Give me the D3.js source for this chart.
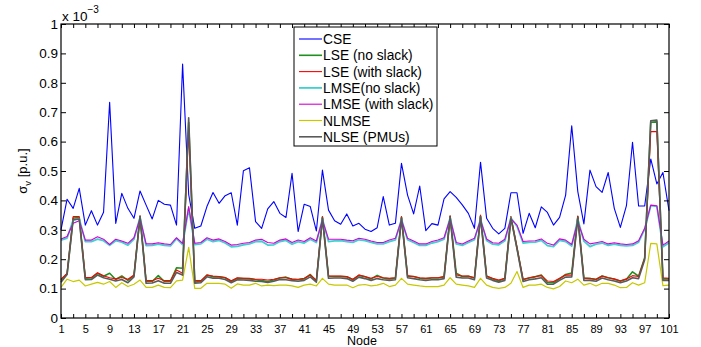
<!DOCTYPE html>
<html>
<head>
<meta charset="utf-8">
<script src="https://cdn.jsdelivr.net/npm/d3@7"></script>
<style>
  body { margin: 0; background: #fff; }
  svg { display: block; }
  text { font-family: "Liberation Sans", Arial, sans-serif; fill: #000; }
</style>
</head>
<body>
<div id="chart"></div>
<script>
// node numbers on the x axis
const nodes = d3.range(1, 102);
const xTickVals = d3.range(1, 102, 2);
const yTickVals = [0, 0.1, 0.2, 0.3, 0.4, 0.5, 0.6, 0.7, 0.8, 0.9, 1];

// sigma_v values, in units of 1e-3 p.u.
const cse = [0.30,0.404,0.373,0.441,0.316,0.365,0.316,0.36,0.734,0.322,0.424,0.373,0.339,0.432,0.384,0.337,0.40,0.387,0.384,0.316,
  0.864,0.42,0.305,0.313,0.379,0.427,0.39,0.416,0.426,0.316,0.501,0.511,0.328,0.305,0.371,0.396,0.356,0.342,0.492,0.294,
  0.387,0.379,0.296,0.503,0.367,0.331,0.319,0.354,0.313,0.322,0.302,0.294,0.307,0.413,0.316,0.322,0.526,0.418,0.354,0.449,
  0.297,0.321,0.316,0.405,0.43,0.41,0.385,0.356,0.305,0.53,0.339,0.305,0.286,0.305,0.426,0.426,0.288,0.356,0.307,0.378,
  0.359,0.316,0.342,0.418,0.654,0.43,0.32,0.503,0.447,0.427,0.495,0.373,0.308,0.382,0.598,0.381,0.381,0.541,0.456,0.495,0.365];
const lseNoSlack = [0.128,0.150,0.340,0.342,0.135,0.136,0.152,0.142,0.152,0.131,0.143,0.128,0.144,0.346,0.124,0.124,0.144,0.124,0.125,0.171,
  0.169,0.665,0.122,0.124,0.146,0.140,0.140,0.137,0.124,0.135,0.134,0.133,0.130,0.127,0.124,0.129,0.136,0.139,0.131,0.130,
  0.133,0.148,0.126,0.343,0.142,0.141,0.141,0.140,0.130,0.145,0.140,0.133,0.145,0.136,0.133,0.136,0.343,0.142,0.141,0.135,
  0.134,0.136,0.136,0.140,0.346,0.152,0.141,0.142,0.136,0.347,0.142,0.133,0.127,0.134,0.343,0.238,0.130,0.136,0.140,0.146,
  0.121,0.120,0.133,0.148,0.153,0.345,0.136,0.134,0.131,0.143,0.137,0.132,0.125,0.132,0.157,0.142,0.205,0.666,0.667,0.133,0.133];
const lseWithSlack = [0.132,0.152,0.345,0.345,0.138,0.138,0.154,0.144,0.137,0.133,0.138,0.132,0.146,0.348,0.127,0.127,0.135,0.127,0.127,0.163,
  0.152,0.645,0.127,0.127,0.146,0.143,0.141,0.138,0.127,0.137,0.135,0.135,0.132,0.132,0.129,0.132,0.137,0.137,0.133,0.132,
  0.135,0.146,0.129,0.345,0.143,0.143,0.143,0.141,0.132,0.146,0.141,0.135,0.141,0.137,0.135,0.137,0.345,0.144,0.141,0.137,
  0.135,0.137,0.137,0.141,0.348,0.146,0.143,0.143,0.137,0.350,0.143,0.135,0.129,0.135,0.345,0.240,0.132,0.137,0.141,0.144,
  0.126,0.124,0.135,0.146,0.146,0.347,0.135,0.135,0.132,0.143,0.137,0.133,0.127,0.133,0.144,0.141,0.203,0.634,0.634,0.137,0.135];
const lmseNoSlack = [0.265,0.272,0.332,0.338,0.260,0.260,0.268,0.263,0.247,0.263,0.258,0.248,0.268,0.342,0.246,0.247,0.251,0.247,0.245,0.270,
  0.250,0.372,0.250,0.252,0.268,0.260,0.264,0.255,0.242,0.244,0.249,0.252,0.260,0.261,0.248,0.249,0.260,0.264,0.251,0.260,
  0.255,0.268,0.257,0.336,0.260,0.262,0.263,0.260,0.257,0.266,0.263,0.257,0.252,0.252,0.260,0.266,0.336,0.266,0.257,0.247,
  0.247,0.255,0.260,0.268,0.340,0.252,0.247,0.257,0.266,0.336,0.264,0.251,0.249,0.263,0.340,0.312,0.255,0.257,0.258,0.264,
  0.246,0.243,0.264,0.260,0.245,0.335,0.262,0.243,0.251,0.255,0.247,0.251,0.247,0.245,0.247,0.258,0.302,0.382,0.380,0.242,0.256];
const lmseWithSlack = [0.269,0.277,0.322,0.331,0.265,0.265,0.276,0.268,0.250,0.268,0.262,0.254,0.273,0.339,0.252,0.252,0.256,0.252,0.250,0.273,
  0.254,0.379,0.254,0.257,0.273,0.265,0.269,0.260,0.248,0.250,0.254,0.257,0.265,0.268,0.257,0.254,0.265,0.269,0.257,0.265,
  0.260,0.273,0.262,0.333,0.268,0.268,0.268,0.265,0.263,0.271,0.268,0.262,0.257,0.257,0.265,0.271,0.333,0.271,0.262,0.252,
  0.252,0.260,0.265,0.273,0.337,0.257,0.252,0.262,0.271,0.333,0.269,0.256,0.254,0.268,0.337,0.316,0.260,0.262,0.263,0.269,
  0.254,0.248,0.269,0.265,0.250,0.328,0.268,0.252,0.256,0.260,0.252,0.256,0.252,0.250,0.252,0.263,0.305,0.384,0.382,0.248,0.262];
const nlmse = [0.104,0.132,0.124,0.129,0.109,0.115,0.121,0.115,0.124,0.104,0.120,0.107,0.115,0.129,0.104,0.104,0.112,0.104,0.103,0.126,
  0.129,0.240,0.101,0.101,0.118,0.118,0.118,0.115,0.101,0.116,0.112,0.112,0.118,0.109,0.112,0.110,0.112,0.112,0.109,0.104,
  0.112,0.115,0.109,0.135,0.115,0.112,0.112,0.112,0.103,0.112,0.114,0.109,0.112,0.118,0.107,0.112,0.135,0.115,0.112,0.109,
  0.107,0.107,0.107,0.112,0.137,0.115,0.112,0.109,0.104,0.135,0.112,0.104,0.101,0.104,0.118,0.158,0.104,0.112,0.112,0.115,
  0.104,0.099,0.107,0.126,0.120,0.132,0.112,0.118,0.109,0.118,0.118,0.112,0.103,0.104,0.120,0.112,0.120,0.254,0.252,0.110,0.112];
const nlsePmu = [0.122,0.148,0.335,0.337,0.130,0.131,0.146,0.137,0.132,0.126,0.131,0.120,0.140,0.345,0.118,0.119,0.127,0.118,0.118,0.155,
  0.146,0.681,0.118,0.120,0.140,0.135,0.135,0.131,0.120,0.130,0.129,0.128,0.125,0.124,0.121,0.125,0.131,0.130,0.127,0.125,
  0.128,0.140,0.122,0.340,0.135,0.136,0.136,0.134,0.125,0.139,0.134,0.128,0.134,0.130,0.128,0.130,0.340,0.137,0.134,0.130,
  0.128,0.130,0.130,0.134,0.343,0.139,0.136,0.136,0.130,0.345,0.136,0.128,0.122,0.128,0.340,0.235,0.124,0.130,0.133,0.137,
  0.115,0.115,0.128,0.139,0.140,0.342,0.128,0.128,0.125,0.136,0.130,0.126,0.120,0.126,0.137,0.134,0.198,0.671,0.673,0.128,0.128];

// plot order = legend order (last one ends up on top)
const series = [
  { name: 'CSE', values: cse, color: '#0000ff', width: 1.1 },
  { name: 'LSE (no slack)', values: lseNoSlack, color: '#1f8f1f', width: 1.6 },
  { name: 'LSE (with slack)', values: lseWithSlack, color: '#ff0000', width: 1.1 },
  { name: 'LMSE(no slack)', values: lmseNoSlack, color: '#3fd0d0', width: 1.8 },
  { name: 'LMSE (with slack)', values: lmseWithSlack, color: '#d200d2', width: 1.1 },
  { name: 'NLMSE', values: nlmse, color: '#c8c800', width: 1.2 },
  { name: 'NLSE (PMUs)', values: nlsePmu, color: '#5a5a5a', width: 1.6 }
];

const W = 701, H = 347;
const margin = { left: 61, right: 32, top: 24, bottom: 29 };
const width = W - margin.left - margin.right;
const height = H - margin.top - margin.bottom;

const svg = d3.select('#chart').append('svg')
    .attr('width', W)
    .attr('height', H);
svg.append('rect').attr('width', W).attr('height', H).attr('fill', '#fff');

const g = svg.append('g')
    .attr('transform', 'translate(' + margin.left + ',' + margin.top + ')');

const scaleX = d3.scaleLinear().domain([1, 101]).range([0, width]);
const scaleY = d3.scaleLinear().domain([0, 1]).range([height, 0]);

// lines
const line = d3.line()
    .x((d, i) => scaleX(nodes[i]))
    .y(d => scaleY(d));

g.selectAll('.series')
    .data(series)
    .enter()
    .append('path')
    .attr('class', 'series')
    .attr('fill', 'none')
    .attr('stroke', d => d.color)
    .attr('stroke-width', d => d.width)
    .attr('stroke-linejoin', 'round')
    .attr('d', d => line(d.values));

// axes, ticks pointing inwards like matlab
const tickFont = (sel, size) => sel.selectAll('text')
    .style('font-family', '"Liberation Sans", Arial, sans-serif')
    .style('font-size', size + 'px')
    .attr('fill', '#000');

const xAxis = g.append('g')
    .attr('transform', 'translate(0,' + height + ')')
    .call(d3.axisBottom(scaleX)
        .tickValues(xTickVals)
        .tickSizeInner(-4)
        .tickSizeOuter(0)
        .tickPadding(7)
        .tickFormat(d => ((d - 1) % 4 === 0 ? String(d) : '')));
tickFont(xAxis, 11);

g.append('g')
    .call(d3.axisTop(scaleX).tickValues(xTickVals).tickSizeInner(-4).tickSizeOuter(0).tickFormat(''));

const yAxis = g.append('g')
    .call(d3.axisLeft(scaleY)
        .tickValues(yTickVals)
        .tickSizeInner(-5)
        .tickSizeOuter(0)
        .tickPadding(3)
        .tickFormat(d => (d === 0 || d === 1 ? String(d) : d3.format('.1f')(d))));
tickFont(yAxis, 13.5);

g.append('g')
    .attr('transform', 'translate(' + width + ',0)')
    .call(d3.axisRight(scaleY).tickValues(yTickVals).tickSizeInner(-5).tickSizeOuter(0).tickFormat(''));

g.selectAll('.domain').remove();
g.selectAll('.tick line').attr('stroke', '#000').attr('stroke-width', 1);

// frame
g.append('rect')
    .attr('width', width)
    .attr('height', height)
    .attr('fill', 'none')
    .attr('stroke', '#000')
    .attr('stroke-width', 1.2);

// exponent above the y axis
const expo = svg.append('text')
    .attr('x', margin.left + 1)
    .attr('y', 21)
    .style('font-size', '13.5px')
    .text('x 10');
expo.append('tspan')
    .attr('dy', -8)
    .style('font-size', '10px')
    .text('\u22123');

// axis titles
svg.append('text')
    .attr('x', 362)
    .attr('y', 345)
    .attr('text-anchor', 'middle')
    .style('font-size', '12.5px')
    .text('Node');

const yLab = svg.append('text')
    .attr('transform', 'translate(27,' + (margin.top + height / 2) + ') rotate(-90)')
    .attr('text-anchor', 'middle')
    .style('font-size', '13px');
yLab.append('tspan').text('\u03c3');
yLab.append('tspan').attr('dy', 4).style('font-size', '9.5px').text('v');
yLab.append('tspan').attr('dy', -4).text(' [p.u.]');

// legend
const legend = svg.append('g').attr('transform', 'translate(294,27)');
legend.append('rect')
    .attr('width', 143)
    .attr('height', 119)
    .attr('fill', '#fff')
    .attr('stroke', '#000')
    .attr('stroke-width', 1);

const rowH = 16.3;
const rows = legend.selectAll('.row')
    .data(series)
    .enter()
    .append('g')
    .attr('class', 'row')
    .attr('transform', (d, i) => 'translate(0,' + (12 + i * rowH) + ')');
rows.append('line')
    .attr('x1', 5).attr('x2', 28)
    .attr('stroke', d => d.color)
    .attr('stroke-width', d => d.width);
rows.append('text')
    .attr('x', 29)
    .attr('y', 5)
    .style('font-size', '13.8px')
    .text(d => d.name);
</script>
</body>
</html>
